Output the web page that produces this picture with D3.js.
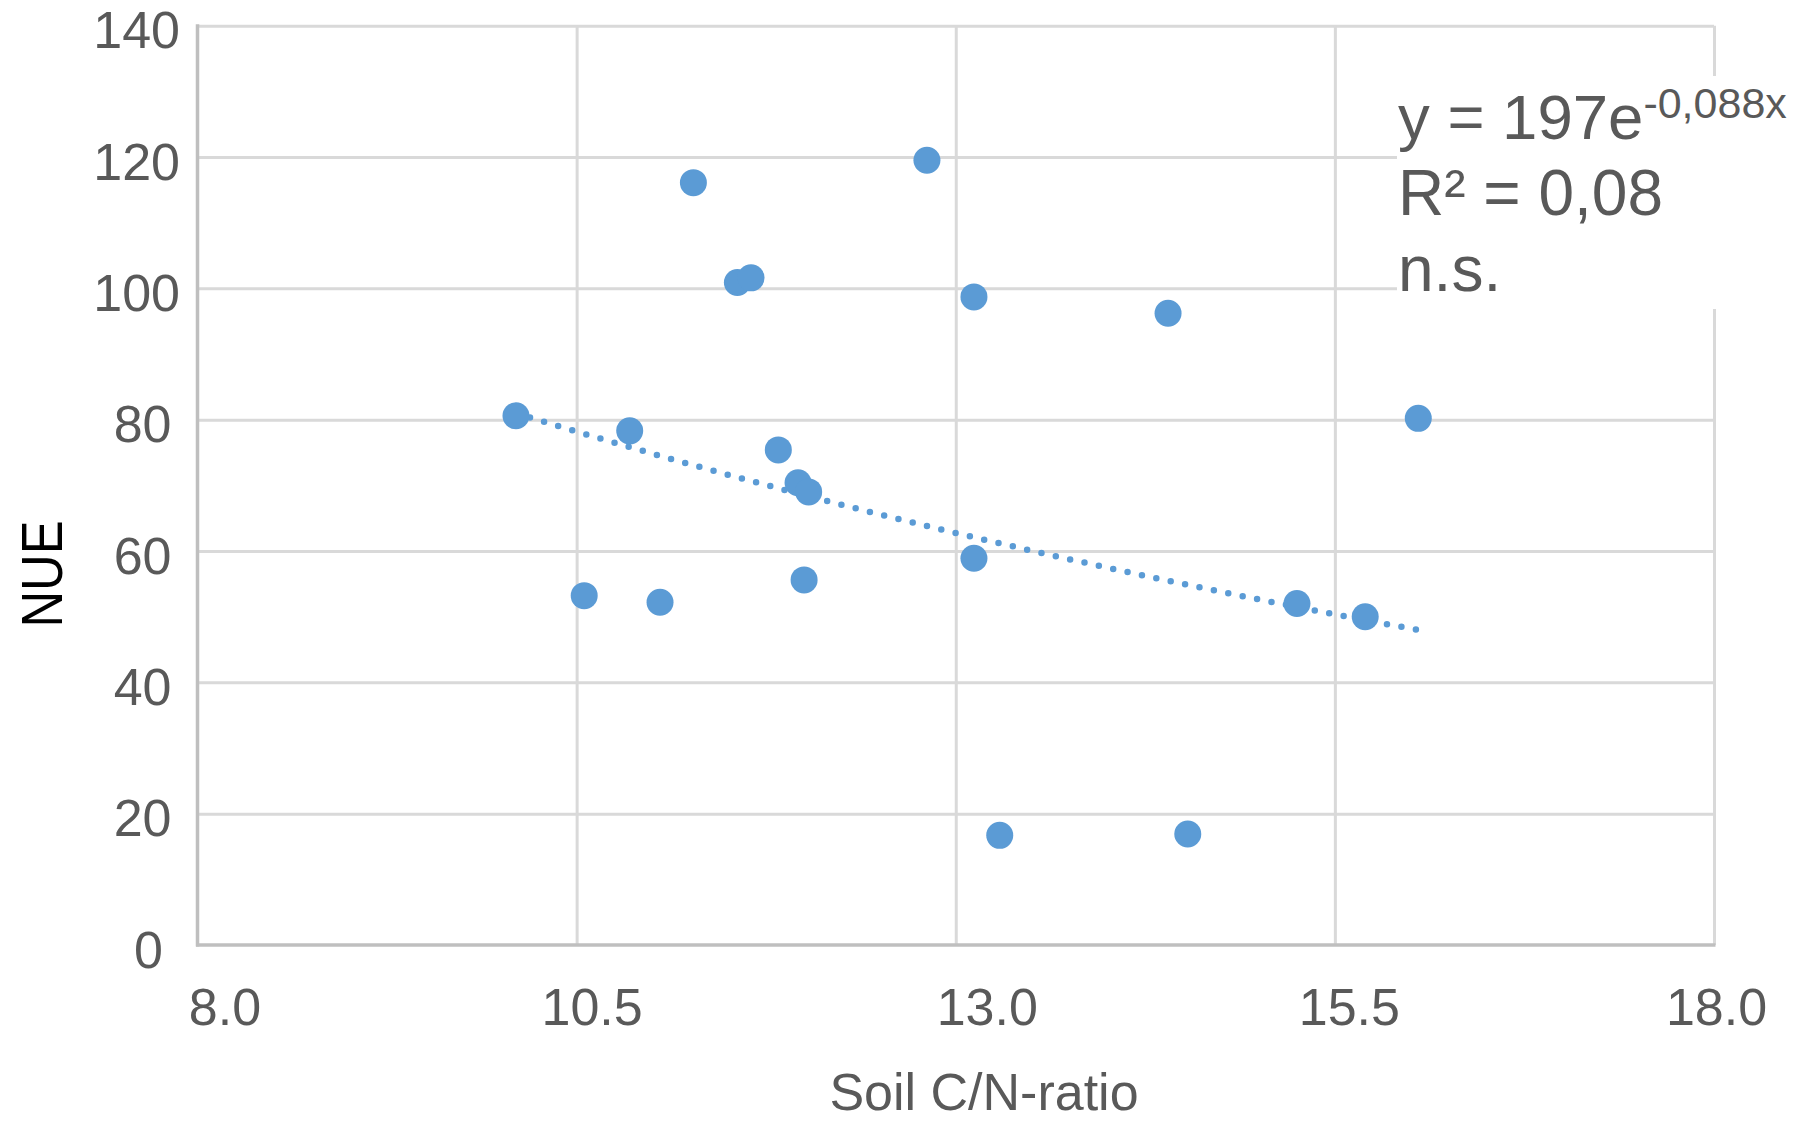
<!DOCTYPE html>
<html>
<head>
<meta charset="utf-8">
<script src="https://cdn.jsdelivr.net/npm/d3@7/dist/d3.min.js"></script>
<style>
  html, body { margin: 0; padding: 0; background: #fff; }
  svg { display: block; font-family: "Liberation Sans", Arial, sans-serif; }
</style>
</head>
<body>
<svg id="chart" width="1800" height="1122"></svg>
<script>
// Soil C/N ratio vs. nitrogen use efficiency
const soilCN = [10.10, 10.55, 10.85, 11.05, 11.27, 11.56, 11.65, 11.83, 11.96, 12.03,
                12.00, 12.81, 13.12, 13.12, 13.29, 14.40, 14.53, 15.25, 15.70, 16.05];
const nue    = [80.6, 53.2, 78.3, 52.2, 116.1, 100.9, 101.6, 75.4, 70.4, 69.0,
                55.6, 119.5, 98.7, 58.9, 16.7, 96.2, 16.9, 52.0, 50.0, 80.2];

// Exponential fit y = a·e^(b·x)
const fitA = 197;
const fitB = -0.088;
const fitR2 = "0,08";

const xTicks = [8.0, 10.5, 13.0, 15.5, 18.0];
const yTicks = [0, 20, 40, 60, 80, 100, 120, 140];

// Layout
const margin = { left: 197.5, right: 1714, top: 25.7, bottom: 945 };
const xLabelNudge = [27, 15, 31, 14, 2];
const dotColor = "#5b9bd5";
const textColor = "#595959";

const svg = d3.select("#chart");

const x = d3.scaleLinear().domain([8, 18]).range([margin.left, margin.right]);
const y = d3.scaleLinear().domain([0, 140]).range([margin.bottom, margin.top]);

// Gridlines
const gridY = svg.append("g")
  .attr("transform", `translate(${margin.left},0)`)
  .call(d3.axisLeft(y).tickValues(yTicks.filter(d => d > 0))
        .tickSize(-(margin.right - margin.left)).tickFormat(""));
gridY.select(".domain").remove();
gridY.selectAll("line").attr("stroke", "#d9d9d9").attr("stroke-width", 3);

const gridX = svg.append("g")
  .attr("transform", `translate(0,${margin.bottom})`)
  .call(d3.axisBottom(x).tickValues(xTicks.filter(d => d > 8))
        .tickSize(-(margin.bottom - margin.top)).tickFormat(""));
gridX.select(".domain").remove();
gridX.selectAll("line").attr("stroke", "#d9d9d9").attr("stroke-width", 3);

// Axis lines
svg.append("line")
  .attr("x1", x(8)).attr("x2", x(8)).attr("y1", y(140) - 1.5).attr("y2", y(0) + 1.5)
  .attr("stroke", "#bfbfbf").attr("stroke-width", 3.5);
svg.append("line")
  .attr("x1", x(8) - 1.5).attr("x2", x(18) + 1.5).attr("y1", y(0)).attr("y2", y(0))
  .attr("stroke", "#bfbfbf").attr("stroke-width", 3.5);

// Tick labels
const yAxis = svg.append("g")
  .attr("transform", `translate(${margin.left},0)`)
  .call(d3.axisLeft(y).tickValues(yTicks).tickSize(0).tickFormat(d3.format("d")));
yAxis.select(".domain").remove();
yAxis.selectAll("text")
  .attr("font-size", 52)
  .attr("fill", textColor)
  .attr("font-family", "Liberation Sans, Arial, sans-serif")
  .attr("dy", 22)
  .attr("x", function (d) { return 163 + 8.5 * (String(d).length - 1) - margin.left; });

const xAxis = svg.append("g")
  .attr("transform", `translate(0,${margin.bottom})`)
  .call(d3.axisBottom(x).tickValues(xTicks).tickSize(0).tickFormat(d3.format(".1f")));
xAxis.select(".domain").remove();
xAxis.selectAll("text")
  .attr("font-size", 52)
  .attr("fill", textColor)
  .attr("font-family", "Liberation Sans, Arial, sans-serif")
  .attr("dy", 0)
  .attr("y", 80)
  .attr("x", (d, i) => xLabelNudge[i]);

// Axis titles
svg.append("text")
  .attr("x", 984).attr("y", 1110)
  .attr("text-anchor", "middle")
  .attr("font-size", 52)
  .attr("fill", textColor)
  .text("Soil C/N-ratio");

svg.append("text")
  .attr("transform", "translate(62,574) rotate(-90)")
  .attr("text-anchor", "middle")
  .attr("font-size", 58)
  .attr("textLength", 107)
  .attr("lengthAdjust", "spacingAndGlyphs")
  .attr("fill", "#000")
  .text("NUE");

// Trend line
const xMin = d3.min(soilCN), xMax = d3.max(soilCN);
const trend = d3.range(0, 101).map(i => {
  const xv = xMin + (xMax - xMin) * i / 100;
  return [xv, fitA * Math.exp(fitB * xv)];
});
svg.append("path")
  .datum(trend)
  .attr("d", d3.line().x(d => x(d[0])).y(d => y(d[1])))
  .attr("fill", "none")
  .attr("stroke", dotColor)
  .attr("stroke-width", 6.5)
  .attr("stroke-linecap", "round")
  .attr("stroke-dasharray", "0,14.7");

// Points
svg.append("g")
  .selectAll("circle")
  .data(soilCN.map((d, i) => [d, nue[i]]))
  .join("circle")
  .attr("cx", d => x(d[0]))
  .attr("cy", d => y(d[1]))
  .attr("r", 13.5)
  .attr("fill", dotColor);

// Equation label with white background
svg.append("rect")
  .attr("x", 1397).attr("y", 76).attr("width", 403).attr("height", 233)
  .attr("fill", "#fff");

const eq = svg.append("g").attr("fill", textColor);
const line1 = eq.append("text").attr("x", 1398).attr("y", 139).attr("font-size", 63.5);
line1.append("tspan").text(`y = ${fitA}e`);
line1.append("tspan").attr("font-size", 43).attr("dy", -21)
  .text(`${String(fitB).replace(".", ",")}x`);
eq.append("text").attr("x", 1398).attr("y", 215).attr("font-size", 64)
  .text(`R² = ${fitR2}`);
eq.append("text").attr("x", 1398).attr("y", 291).attr("font-size", 64)
  .text("n.s.");
</script>
</body>
</html>
